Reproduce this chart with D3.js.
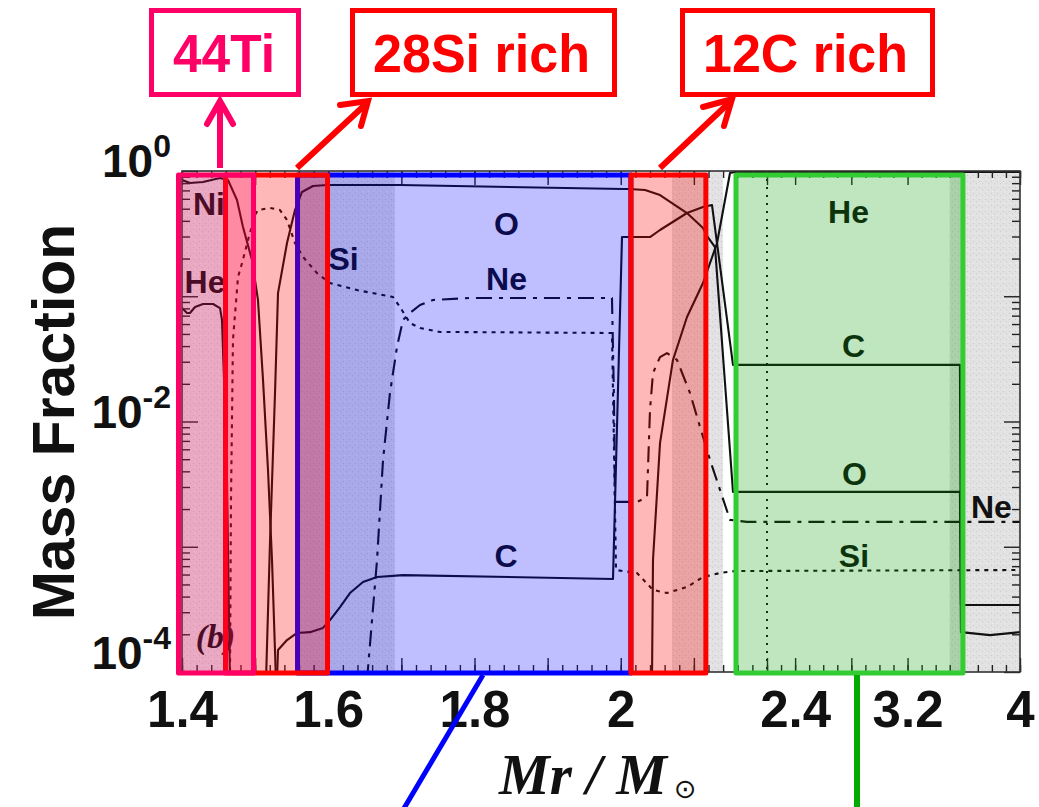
<!DOCTYPE html>
<html><head><meta charset="utf-8">
<script src="https://cdn.jsdelivr.net/npm/d3@7"></script>
<style>body{margin:0;background:#fff}svg{display:block}</style>
</head><body>
<svg id="chart" width="1039" height="807"></svg>
<script>
// ---------- data ----------
const xTickValues = [1.4, 1.6, 1.8, 2.0, 2.4, 3.2, 4.0];
const xTickLabels = ["1.4", "1.6", "1.8", "2", "2.4", "3.2", "4"];
const yTickValues = [1, 1e-2, 1e-4];
const yTickExponents = ["0", "-2", "-4"];

const niMass = [1.40, 1.411, 1.4287, 1.452, 1.4629, 1.4752, 1.4834, 1.4957, 1.5039, 1.5108, 1.5176, 1.5231, 1.5285];
const niFrac = [0.847, 0.802, 0.817, 0.879, 0.847, 0.587, 0.357, 0.195, 0.0933, 0.0214, 0.0041, 7.8e-4, 8.6e-5];

const heMass = [1.40, 1.4068, 1.4109, 1.4178, 1.4287, 1.4424, 1.452, 1.4547, 1.4575, 1.4615, 1.4656,
                2.0427, 2.0441, 2.0537, 2.0714, 2.0906, 2.1125, 2.1317, 2.1494, 2.1562, 4.0];
const heFrac = [0.0805, 0.0735, 0.0735, 0.082, 0.0867, 0.0867, 0.0805, 0.0646, 0.0214, 0.0034, 8.6e-5,
                8.6e-5, 7.83e-4, 0.00673, 0.031, 0.0683, 0.1276, 0.266, 0.964, 0.982, 0.982];
const heGap = 11; // He is below the plot between the two pieces

const oMass = [1.5149, 1.5203, 1.5272, 1.5313, 1.5436, 1.5545, 1.5641, 1.5791, 1.5983, 1.6981, 2.0031, 2.0113,
               2.0332, 2.0537, 2.0906, 2.1125, 2.1179, 2.1289, 2.1535, 3.5727, 3.5798, 3.786, 4.0];
const oFrac = [8.6e-5, 0.00107, 0.0169, 0.106, 0.266, 0.488, 0.68, 0.759, 0.773, 0.773, 0.718, 0.718,
               0.705, 0.643, 0.462, 0.351, 0.303, 0.247, 0.00274, 0.00274, 2.08e-4, 1.97e-4, 2.08e-4];

const cMass = [1.5299, 1.5313, 1.5436, 1.5573, 1.575, 1.5928, 1.6024, 1.6161, 1.6297, 1.6475, 1.6667, 1.7022,
               1.9894, 2.0017, 2.04, 2.0537, 2.0906, 2.1125, 2.1248, 2.1535, 3.5727, 3.5798, 4.0];
const cFrac = [8.6e-5, 1.5e-4, 1.8e-4, 2.05e-4, 2.08e-4, 2.25e-4, 2.6e-4, 3.3e-4, 4.27e-4, 5.23e-4, 5.73e-4, 5.94e-4,
               5.53e-4, 0.297, 0.297, 0.338, 0.462, 0.516, 0.535, 0.0283, 0.0283, 3.43e-4, 3.43e-4];

const siMass = [1.4656, 1.467, 1.4697, 1.4766, 1.4821, 1.4903, 1.4998, 1.5039, 1.5203, 1.534, 1.5436, 1.5545,
                1.5655, 1.5846, 1.6024, 1.6393, 1.6885, 1.6981, 1.7118, 1.7255, 1.7528, 1.988, 1.9908, 1.9935,
                2.0222, 2.0441, 2.0632, 2.0906, 2.1125, 2.1358, 2.1562, 4.0];
const siFrac = [8.6e-5, 0.00236, 0.0448, 0.1425, 0.184, 0.281, 0.445, 0.488, 0.507, 0.488, 0.406, 0.266,
                0.206, 0.153, 0.1276, 0.112, 0.0986, 0.082, 0.0611, 0.0558, 0.0519, 0.0509, 0.00592, 6.52e-4,
                6.17e-4, 4.52e-4, 4.27e-4, 4.77e-4, 5.73e-4, 6.17e-4, 6.4e-4, 6.52e-4];

const neMass = [1.653, 1.6667, 1.6749, 1.6844, 1.694, 1.7022, 1.7118, 1.7255, 1.7432, 1.7938, 1.988, 1.9908,
                1.9921, 2.0222, 2.0359, 2.04, 2.0441, 2.0537, 2.0632, 2.0769, 2.0947, 2.1084, 2.1221, 2.1358,
                2.1494, 2.1726, 4.0];
const neFrac = [8.6e-5, 7.83e-4, 0.00493, 0.0169, 0.0394, 0.0646, 0.0735, 0.0851, 0.0933, 0.0968, 0.0968, 0.0149,
                0.00228, 0.00228, 0.00249, 0.0124, 0.0244, 0.0327, 0.0352, 0.031, 0.0169, 0.00904, 0.00493, 0.00284,
                0.00164, 0.00158, 0.00158];

// shaded bands of the original figure (mass ranges)
const shadeStart = [1.39, 1.558, 2.0701, 3.50];
const shadeEnd   = [1.4595, 1.691, 2.1399, 4.0];

// highlighted zones (mass ranges)
const zoneNames = ["O/Ne", "28Si rich", "44Ti", "12C rich", "He"];
const zoneStart = [1.558, 1.4595, 1.3952, 2.0139, 2.1576];
const zoneEnd   = [2.0139, 1.599, 1.4978, 2.1164, 3.594];

// species labels: text, mass, fraction
const labelText = ["Ni", "He", "Si", "O", "Ne", "C", "He", "C", "O", "Si", "Ne"];
const labelMass = [1.4369, 1.4315, 1.6209, 1.8438, 1.8438, 1.8431, 2.7797, 2.8152, 2.8223, 2.8188, 3.7967];
const labelFrac = [0.445, 0.106, 0.162, 0.308, 0.112, 6.9e-4, 0.384, 0.0327, 0.00311, 6.9e-4, 0.0017];

// ---------- chart ----------
const svg = d3.select("#chart");
const x = d3.scaleLinear().domain([1.4, 2.2, 4.0]).range([182, 767, 1020]);
const y = d3.scaleLog().domain([1e-4, 1]).range([672, 171]);
const PX0 = x(1.4), PX1 = x(4.0), PY0 = y(1), PY1 = y(1e-4);

const defs = svg.append("defs");
defs.append("clipPath").attr("id", "plotclip").append("rect")
  .attr("x", PX0).attr("y", PY0).attr("width", PX1 - PX0).attr("height", PY1 - PY0);
const pat = defs.append("pattern").attr("id", "stipple").attr("patternUnits", "userSpaceOnUse")
  .attr("width", 6).attr("height", 6);
pat.append("rect").attr("width", 6).attr("height", 6).attr("fill", "#e2e2e2");
pat.append("rect").attr("x", 1).attr("y", 1).attr("width", 1).attr("height", 1).attr("fill", "#c9c9c9");
pat.append("rect").attr("x", 4).attr("y", 3).attr("width", 1).attr("height", 1).attr("fill", "#cdcdcd");
pat.append("rect").attr("x", 2).attr("y", 5).attr("width", 1).attr("height", 1).attr("fill", "#f0f0f0");

// plot background and shaded bands
svg.append("rect").attr("x", PX0).attr("y", PY0).attr("width", PX1 - PX0).attr("height", PY1 - PY0).attr("fill", "#fff");
const plot = svg.append("g").attr("clip-path", "url(#plotclip)");
plot.selectAll("rect.shade").data(shadeStart).join("rect").attr("class", "shade")
  .attr("x", (d) => x(d)).attr("width", (d, i) => x(shadeEnd[i]) - x(d))
  .attr("y", PY0).attr("height", PY1 - PY0).attr("fill", "url(#stipple)");

// axes ticks (inward) on all four sides
const xMinor = d3.range(0, 41).map(i => 1.4 + i * 0.02).concat(d3.range(1, 19).map(i => 2.2 + i * 0.1));
const xMajor = d3.range(0, 9).map(i => 1.4 + i * 0.1).concat([2.4, 2.8, 3.2, 3.6, 4.0]);
const yMinor = [];
[-4, -3, -2, -1].forEach(e => { for (let k = 2; k <= 9; k++) yMinor.push(k * Math.pow(10, e)); });
const yMajor = [1e-4, 1e-3, 1e-2, 1e-1, 1];

function styleAxis(g) {
  g.select(".domain").remove();
  g.selectAll("line").attr("stroke", "#222").attr("stroke-width", 1.4);
}
svg.append("g").attr("transform", `translate(0,${PY1})`).call(d3.axisBottom(x).tickValues(xMinor).tickSize(-7).tickFormat("")).call(styleAxis);
svg.append("g").attr("transform", `translate(0,${PY1})`).call(d3.axisBottom(x).tickValues(xMajor).tickSize(-14).tickFormat("")).call(styleAxis);
svg.append("g").attr("transform", `translate(0,${PY0})`).call(d3.axisTop(x).tickValues(xMinor).tickSize(-7).tickFormat("")).call(styleAxis);
svg.append("g").attr("transform", `translate(0,${PY0})`).call(d3.axisTop(x).tickValues(xMajor).tickSize(-14).tickFormat("")).call(styleAxis);
svg.append("g").attr("transform", `translate(${PX0},0)`).call(d3.axisLeft(y).tickValues(yMinor).tickSize(-8).tickFormat("")).call(styleAxis);
svg.append("g").attr("transform", `translate(${PX0},0)`).call(d3.axisLeft(y).tickValues(yMajor).tickSize(-16).tickFormat("")).call(styleAxis);
svg.append("g").attr("transform", `translate(${PX1},0)`).call(d3.axisRight(y).tickValues(yMinor).tickSize(-8).tickFormat("")).call(styleAxis);
svg.append("g").attr("transform", `translate(${PX1},0)`).call(d3.axisRight(y).tickValues(yMajor).tickSize(-16).tickFormat("")).call(styleAxis);

// frame
svg.append("rect").attr("x", PX0).attr("y", PY0).attr("width", PX1 - PX0).attr("height", PY1 - PY0)
  .attr("fill", "none").attr("stroke", "#333").attr("stroke-width", 1.6);

// vertical dotted marker at the axis break
plot.append("line").attr("x1", x(2.2)).attr("x2", x(2.2)).attr("y1", PY0).attr("y2", PY1)
  .attr("stroke", "#111").attr("stroke-width", 2).attr("stroke-dasharray", "2,6");

// curves
const line = d3.line().x(d => x(d[0])).y(d => y(d[1]));
function curve(mass, frac, dash, breakAt) {
  const pts = mass.map((m, i) => [m, frac[i]]);
  const parts = breakAt ? [pts.slice(0, breakAt), pts.slice(breakAt)] : [pts];
  parts.forEach(p => plot.append("path").attr("d", line(p)).attr("fill", "none")
    .attr("stroke", "#111").attr("stroke-width", 2.1).attr("stroke-linejoin", "round")
    .attr("stroke-dasharray", dash || null));
}
curve(niMass, niFrac);
curve(heMass, heFrac, null, heGap);
curve(oMass, oFrac);
curve(cMass, cFrac);
curve(siMass, siFrac, "4,5");
curve(neMass, neFrac, "16,7,4,7");

// species labels
plot.selectAll("text.sp").data(labelText).join("text").attr("class", "sp")
  .attr("x", (d, i) => x(labelMass[i])).attr("y", (d, i) => y(labelFrac[i]))
  .attr("text-anchor", "middle").attr("font-family", "Liberation Sans, Arial, sans-serif")
  .attr("font-weight", "bold").attr("font-size", 32).attr("fill", "#111").text(d => d);
plot.append("text").attr("x", x(1.4458)).attr("y", y(1.56e-4)).attr("text-anchor", "middle")
  .attr("font-family", "Liberation Serif, Times New Roman, serif").attr("font-style", "italic")
  .attr("font-weight", "bold").attr("font-size", 34).attr("fill", "#111").text("(b)");

// zone overlays
const zoneFill = ["#0000ff", "#ff0000", "#ff0066", "#ff0000", "#009a00"];
const zoneOpacity = [0.25, 0.28, 0.25, 0.28, 0.25];
const zoneStroke = ["#0000ff", "#ff0000", "#ff0066", "#ff0000", "#33cc33"];
const zy0 = PY0 + 4, zy1 = PY1 + 1;
zoneNames.forEach((n, i) => {
  const g = svg.append("g");
  g.append("rect").attr("x", x(zoneStart[i])).attr("y", zy0).attr("width", x(zoneEnd[i]) - x(zoneStart[i]))
    .attr("height", zy1 - zy0).attr("fill", zoneFill[i]).attr("fill-opacity", zoneOpacity[i]);
  g.append("rect").attr("x", x(zoneStart[i])).attr("y", zy0).attr("width", x(zoneEnd[i]) - x(zoneStart[i]))
    .attr("height", zy1 - zy0).attr("fill", "none").attr("stroke", zoneStroke[i]).attr("stroke-width", 5)
    .attr("stroke-linejoin", "round");
});

// tick labels
const lab = svg.append("g").attr("transform", `translate(0,${PY1})`)
  .call(d3.axisBottom(x).tickValues(xTickValues).tickFormat((d, i) => xTickLabels[i]).tickSize(0).tickPadding(19));
lab.select(".domain").remove();
lab.selectAll("text").attr("font-family", "Liberation Sans, Arial, sans-serif").attr("font-weight", "bold")
  .attr("font-size", 51).attr("fill", "#111");

const ylab = svg.append("g");
yTickValues.forEach((v, i) => {
  const t = ylab.append("text").attr("x", 171).attr("y", i === 2 ? 669 : y(v) + 6).attr("text-anchor", "end")
    .attr("font-family", "Liberation Sans, Arial, sans-serif").attr("font-weight", "bold").attr("fill", "#111");
  t.append("tspan").attr("font-size", 46).text("10");
  t.append("tspan").attr("font-size", 32).attr("dy", -20).text(yTickExponents[i]);
});

// axis titles
svg.append("text").attr("transform", "translate(74,422) rotate(-90)").attr("text-anchor", "middle")
  .attr("font-family", "Liberation Sans, Arial, sans-serif").attr("font-weight", "bold")
  .attr("font-size", 59).attr("fill", "#111").text("Mass Fraction");
const xt = svg.append("text").attr("x", 499).attr("y", 794)
  .attr("font-family", "Liberation Serif, Times New Roman, serif").attr("font-style", "italic")
  .attr("font-weight", "bold").attr("font-size", 57).attr("fill", "#111");
xt.append("tspan").text("Mr / M");
svg.append("text").attr("x", 674).attr("y", 798).attr("font-family", "DejaVu Sans, sans-serif")
  .attr("font-size", 27).attr("fill", "#111").text("\u2299");

// annotation boxes and arrows
const boxes = [
  { t: "44Ti", c: "#ff0066", x0: 151.5, x1: 298.5, tx: 224, tl: 102 },
  { t: "28Si rich", c: "#ff0000", x0: 352.5, x1: 614.5, tx: 481.5, tl: 217 },
  { t: "12C rich", c: "#ff0000", x0: 682.5, x1: 932.5, tx: 805.5, tl: 205 }
];
boxes.forEach(b => {
  svg.append("rect").attr("x", b.x0).attr("y", 10.5).attr("width", b.x1 - b.x0).attr("height", 84)
    .attr("fill", "#fff").attr("stroke", b.c).attr("stroke-width", 5);
  svg.append("text").attr("x", b.tx).attr("y", 72).attr("text-anchor", "middle")
    .attr("font-family", "Liberation Sans, Arial, sans-serif").attr("font-weight", "bold")
    .attr("font-size", 54).attr("fill", b.c).attr("textLength", b.tl).attr("lengthAdjust", "spacingAndGlyphs")
    .text(b.t);
});
const arrows = [
  { c: "#ff0066", p: [[220, 168], [220, 101]], h: [[207, 124], [220, 101], [233, 124]] },
  { c: "#ff0000", p: [[297, 168], [367, 103]], h: [[340, 105], [368, 101], [361, 126]] },
  { c: "#ff0000", p: [[660, 168], [731, 101]], h: [[703, 107], [732, 99], [724, 126]] }
];
arrows.forEach(a => {
  svg.append("path").attr("d", d3.line()(a.p)).attr("stroke", a.c).attr("stroke-width", 6).attr("fill", "none");
  svg.append("path").attr("d", d3.line()(a.h)).attr("stroke", a.c).attr("stroke-width", 6).attr("fill", "none")
    .attr("stroke-linecap", "round").attr("stroke-linejoin", "miter");
});
// pointer lines below the axis
svg.append("line").attr("x1", 483).attr("y1", 675).attr("x2", 403).attr("y2", 810)
  .attr("stroke", "#0000ff").attr("stroke-width", 5);
svg.append("line").attr("x1", 857).attr("y1", 675).attr("x2", 857).attr("y2", 810)
  .attr("stroke", "#00aa00").attr("stroke-width", 6);
</script>
</body></html>
